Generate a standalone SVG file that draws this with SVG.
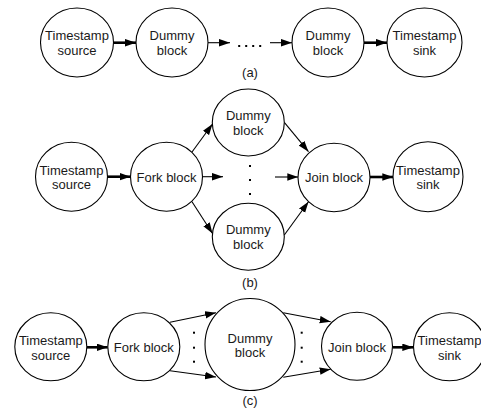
<svg xmlns="http://www.w3.org/2000/svg" width="481" height="409" viewBox="0 0 481 409">
<defs>
<marker id="ah" markerUnits="userSpaceOnUse" markerWidth="11" markerHeight="8" refX="11" refY="3.75" orient="auto">
<path d="M0,0 L11,3.75 L0,7.5 z" fill="#000"/>
</marker>
<style>
.n{fill:#fff;stroke:#000;stroke-width:1.1}
.t{font-family:"Liberation Sans",Arial,sans-serif;font-size:13px;fill:#1a1a1a;text-anchor:middle}
.thick{stroke:#000;stroke-width:2.6;fill:none;marker-end:url(#ah)}
.thin{stroke:#000;stroke-width:1.1;fill:none;marker-end:url(#ah)}
.dot{fill:#000}
</style>
</defs>
<rect width="481" height="409" fill="#fff"/>
<g id="connectors">
<line class="thick" x1="113.5" y1="42.7" x2="136" y2="42.7"/>
<line class="thin" x1="208" y1="42.7" x2="230" y2="42.7"/>
<line class="thin" x1="270" y1="42.7" x2="292" y2="42.7"/>
<line class="thick" x1="364" y1="42.7" x2="387" y2="42.7"/>
<line class="thick" x1="107.5" y1="176.7" x2="130.5" y2="176.7"/>
<line class="thin" x1="202.5" y1="176.7" x2="223" y2="176.7"/>
<line class="thin" x1="192" y1="152" x2="212.5" y2="124"/>
<line class="thin" x1="192" y1="201.7" x2="212.5" y2="233.5"/>
<line class="thin" x1="284.3" y1="122.3" x2="308.5" y2="151.7"/>
<line class="thin" x1="284.3" y1="235" x2="308.5" y2="201.7"/>
<line class="thin" x1="275" y1="177" x2="298.3" y2="177"/>
<line class="thick" x1="370" y1="177" x2="393.3" y2="177"/>
<line class="thick" x1="86.8" y1="347.3" x2="107.7" y2="347.3"/>
<line class="thin" x1="170" y1="322.3" x2="216" y2="312.7"/>
<line class="thin" x1="170" y1="370.7" x2="216" y2="377"/>
<line class="thin" x1="283.3" y1="312.7" x2="330.7" y2="321.7"/>
<line class="thin" x1="283.3" y1="377.3" x2="330.7" y2="369.3"/>
<line class="thick" x1="392.7" y1="347.3" x2="413.3" y2="347.3"/>
<g id="dots">
<rect class="dot" x="238.2" y="45" width="2" height="2"/>
<rect class="dot" x="245.2" y="45" width="2" height="2"/>
<rect class="dot" x="252.2" y="45" width="2" height="2"/>
<rect class="dot" x="259.2" y="45" width="2" height="2"/>
<rect class="dot" x="249" y="165" width="2" height="2"/>
<rect class="dot" x="249" y="179" width="2" height="2"/>
<rect class="dot" x="249" y="193" width="2" height="2"/>
<rect class="dot" x="193" y="331.7" width="2" height="2"/>
<rect class="dot" x="193" y="346.7" width="2" height="2"/>
<rect class="dot" x="193" y="360.7" width="2" height="2"/>
<rect class="dot" x="300.7" y="331.7" width="2" height="2"/>
<rect class="dot" x="300.7" y="346.7" width="2" height="2"/>
<rect class="dot" x="300.7" y="360.7" width="2" height="2"/>
</g>
</g>
<g id="a_src"><ellipse class="n" cx="77" cy="42.5" rx="36.5" ry="34.5"/><text class="t" x="77" y="39.5">Timestamp</text><text class="t" x="77" y="54.5">source</text></g>
<g id="a_dummy1"><ellipse class="n" cx="172" cy="42.5" rx="36" ry="34.5"/><text class="t" x="172" y="39.5">Dummy</text><text class="t" x="172" y="54.5">block</text></g>
<g id="a_dummy2"><ellipse class="n" cx="328" cy="42.5" rx="36" ry="34.5"/><text class="t" x="328" y="39.5">Dummy</text><text class="t" x="328" y="54.5">block</text></g>
<g id="a_sink"><ellipse class="n" cx="424.5" cy="42.5" rx="37.5" ry="34.5"/><text class="t" x="424.5" y="39.5">Timestamp</text><text class="t" x="424.5" y="54.5">sink</text></g>
<text class="t" x="250" y="76.5">(a)</text>
<g id="b_src"><ellipse class="n" cx="71.5" cy="176.7" rx="36" ry="34.5"/><text class="t" x="71.5" y="174.5">Timestamp</text><text class="t" x="71.5" y="189">source</text></g>
<g id="b_fork"><ellipse class="n" cx="166.5" cy="176.7" rx="36" ry="34.5"/><text class="t" x="166.5" y="181.5">Fork block</text></g>
<g id="b_dummy1"><ellipse class="n" cx="248.3" cy="122.5" rx="36" ry="33.5"/><text class="t" x="248.3" y="119.5">Dummy</text><text class="t" x="248.3" y="134.5">block</text></g>
<g id="b_dummy2"><ellipse class="n" cx="248.3" cy="236.7" rx="36" ry="33.5"/><text class="t" x="248.3" y="233.7">Dummy</text><text class="t" x="248.3" y="248.7">block</text></g>
<g id="b_join"><ellipse class="n" cx="334" cy="177.5" rx="36" ry="34.2"/><text class="t" x="334" y="182">Join block</text></g>
<g id="b_sink"><ellipse class="n" cx="428" cy="176.7" rx="35" ry="35"/><text class="t" x="428" y="174.5">Timestamp</text><text class="t" x="428" y="189">sink</text></g>
<text class="t" x="250" y="287">(b)</text>
<g id="c_src"><ellipse class="n" cx="50.8" cy="346.8" rx="36" ry="34"/><text class="t" x="50.8" y="345">Timestamp</text><text class="t" x="50.8" y="359.5">source</text></g>
<g id="c_fork"><ellipse class="n" cx="143.8" cy="346.8" rx="36" ry="34"/><text class="t" x="143.8" y="352">Fork block</text></g>
<g id="c_dummy"><ellipse class="n" cx="250" cy="344.5" rx="45" ry="46"/><text class="t" x="250" y="342.5">Dummy</text><text class="t" x="250" y="357">block</text></g>
<g id="c_join"><ellipse class="n" cx="357" cy="346.3" rx="35.5" ry="34"/><text class="t" x="357" y="351.5">Join block</text></g>
<g id="c_sink"><ellipse class="n" cx="449.5" cy="346.8" rx="36" ry="34"/><text class="t" x="449.5" y="345">Timestamp</text><text class="t" x="449.5" y="359.5">sink</text></g>
<text class="t" x="250" y="405">(c)</text>
</svg>
